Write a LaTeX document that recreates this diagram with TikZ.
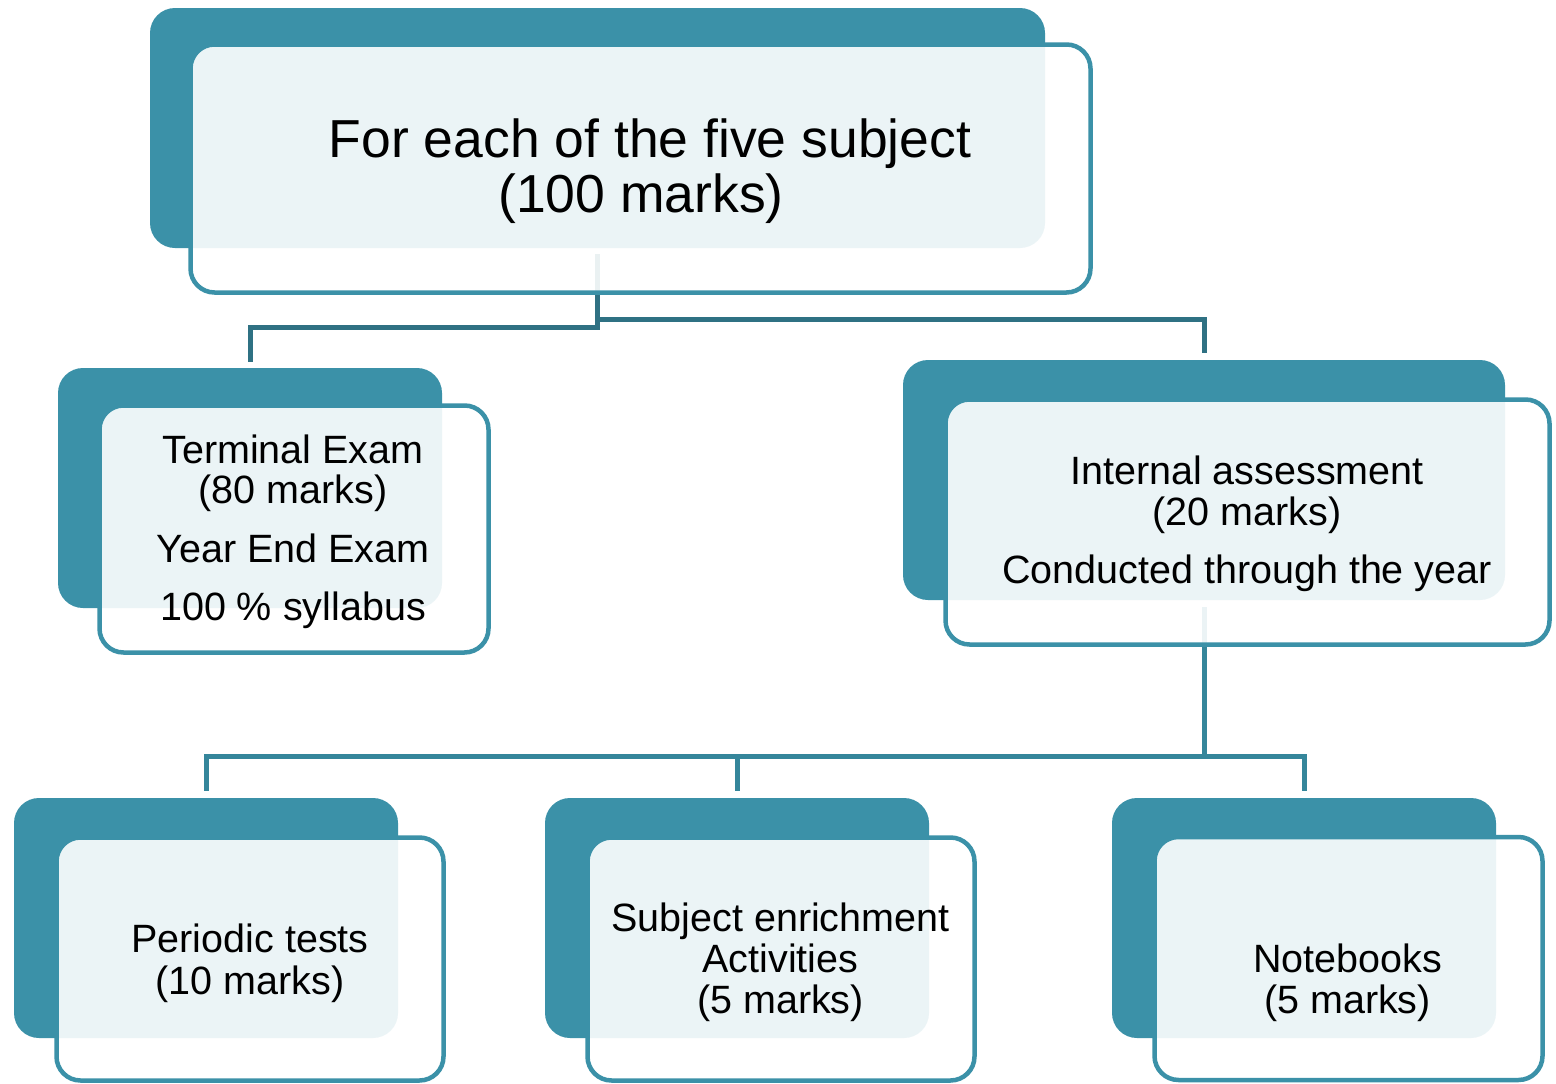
\documentclass[tikz,border=0pt]{standalone}
\usepackage{fontspec}
\setmainfont{Liberation Sans}
\usetikzlibrary{calc}
\definecolor{tealA}{HTML}{3B91A8}
\definecolor{conA}{HTML}{2F7183}
\definecolor{conB}{HTML}{35869B}
\begin{document}
\begin{tikzpicture}[x=1pt,y=-1pt,
 backbox/.style={fill=tealA, draw=none, rounded corners=25pt, minimum width=384pt, minimum height=240pt, inner sep=0pt},
 frontbox/.style={draw=tealA, line width=4.5pt, fill=white, fill opacity=0.9, rounded corners=24pt, minimum width=387pt, minimum height=243pt, inner sep=0pt},
 lbl/.style={anchor=base, inner sep=0pt, font=\fontsize{39.5}{40}\selectfont},
 biglbl/.style={anchor=base, inner sep=0pt, font=\fontsize{53.5}{55}\selectfont},
 connA/.style={draw=conA, line width=5pt},
 connB/.style={draw=conB, line width=5pt}]
\useasboundingbox (0,0) rectangle (1556,1084);
\fill[white] (0,0) rectangle (1556,1084);
% back boxes
\node[backbox, minimum width=895pt] (topB) at (597.5,128) {};
\node[backbox] (lmB) at (250,488) {};
\node[backbox, minimum width=602pt] (rmB) at (1204,480) {};
\node[backbox] (blB) at (206,918) {};
\node[backbox] (bmB) at (737,918) {};
\node[backbox] (brB) at (1304,918) {};
% connectors
\draw[connA] ($(topB.south)+(0,6)$) |- ($(lmB.north)+(0,-40)$) -- ($(lmB.north)+(0,-6)$);
\draw[connA] ($(topB.south)+(0,6)$) |- ($(rmB.north)+(0,-40)$) -- ($(rmB.north)+(0,-7)$);
\draw[connB] ($(rmB.south)+(0,7)$) |- ($(blB.north)+(0,-41)$) -- ($(blB.north)+(0,-7)$);
\draw[connB] ($(rmB.south)+(0,7)$) |- ($(bmB.north)+(0,-41)$) -- ($(bmB.north)+(0,-7)$);
\draw[connB] ($(rmB.south)+(0,7)$) |- ($(brB.north)+(0,-41)$) -- ($(brB.north)+(0,-7)$);
% front boxes
\node[frontbox, minimum width=900pt, minimum height=248pt] (topF) at (640.5,168.5) {};
\node[frontbox, minimum width=389pt, minimum height=247pt] (lmF) at (294,529) {};
\node[frontbox, minimum width=604pt, minimum height=245pt] (rmF) at (1247.5,522) {};
\node[frontbox] (blF) at (250,959) {};
\node[frontbox] (bmF) at (781,959) {};
\node[frontbox, minimum width=388pt] (brF) at (1348.5,958.5) {};
% texts
\node[biglbl] (t1) at (650,157) {For each of the five subject};
\node[biglbl] (t2) at (641,212) {(100 marks)};
\node[lbl] (l1) at (293,463) {Terminal Exam};
\node[lbl] (l2) at (293,503) {(80 marks)};
\node[lbl] (l3) at (293,562) {Year End Exam};
\node[lbl] (l4) at (293,620) {100 \% syllabus};
\node[lbl] (r1) at (1247,484) {Internal assessment};
\node[lbl] (r2) at (1247,525) {(20 marks)};
\node[lbl] (r3) at (1247,583) {Conducted through the year};
\node[lbl] (b1) at (250,952) {Periodic tests};
\node[lbl] (b2) at (250,994) {(10 marks)};
\node[lbl] (m1) at (780.5,931) {Subject enrichment};
\node[lbl] (m2) at (780.5,972) {Activities};
\node[lbl] (m3) at (780.5,1013) {(5 marks)};
\node[lbl] (n1) at (1347.5,972) {Notebooks};
\node[lbl] (n2) at (1347.5,1013) {(5 marks)};
\end{tikzpicture}
\end{document}
